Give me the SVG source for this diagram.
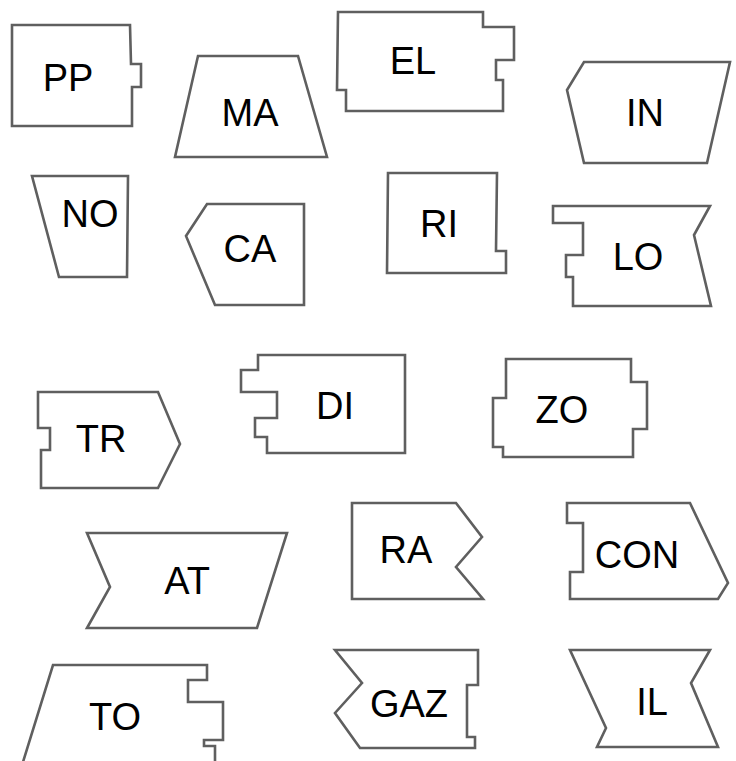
<svg xmlns="http://www.w3.org/2000/svg" width="736" height="761" viewBox="0 0 736 761">
<style>
.s{fill:#fff;stroke:#5f5f5f;stroke-width:2.6;stroke-linejoin:miter}
.t{font-family:"Liberation Sans",Arial,sans-serif;font-size:38px;fill:#000;text-anchor:middle}
</style>
<rect width="736" height="761" fill="#fff"/>
<g id="PP"><polygon class="s" points="12,25 130,25 131,64 141,64 141,87 132,87 132,126 12,126"/><text class="t" x="68" y="91">PP</text></g>
<g id="MA"><polygon class="s" points="198,56 298,56 327,157 175,157"/><text class="t" x="250" y="126">MA</text></g>
<g id="EL"><polygon class="s" points="338,12 483,12 483,27 514,27 514,60 496,60 496,80 503,80 503,111 346,111 346,90 337,90"/><text class="t" x="413" y="74">EL</text></g>
<g id="IN"><polygon class="s" points="584,62 730,62 707,163 584,163 567,90"/><text class="t" x="645" y="126">IN</text></g>
<g id="NO"><polygon class="s" points="32,176 128,176 127,277 59,277"/><text class="t" x="90" y="227">NO</text></g>
<g id="CA"><polygon class="s" points="207,204 304,204 304,305 215,305 186,236"/><text class="t" x="250" y="262">CA</text></g>
<g id="RI"><polygon class="s" points="388,173 497,173 496,251 506,251 506,273 387,273"/><text class="t" x="439" y="237">RI</text></g>
<g id="LO"><polygon class="s" points="553,206 710,206 694,235 711,306 573,306 573,277 566,277 566,255 583,255 583,223 553,223"/><text class="t" x="638" y="270">LO</text></g>
<g id="TR"><polygon class="s" points="38,392 158,392 180,444 158,488 41,488 41,450 50,450 50,428 38,428"/><text class="t" x="101" y="452">TR</text></g>
<g id="DI"><polygon class="s" points="258,355 405,355 405,453 267,453 267,437 255,437 255,418 277,418 277,392 241,392 241,370 258,370"/><text class="t" x="335" y="419">DI</text></g>
<g id="ZO"><polygon class="s" points="506,359 631,359 631,382 647,382 647,429 633,429 633,457 503,457 503,447 493,447 493,398 503,398 506,398"/><text class="t" x="562" y="423">ZO</text></g>
<g id="AT"><polygon class="s" points="87,533 287,533 257,628 87,628 110,587"/><text class="t" x="187" y="594">AT</text></g>
<g id="RA"><polygon class="s" points="352,503 456,503 482,537 456,567 483,599 352,599"/><text class="t" x="406" y="563">RA</text></g>
<g id="CON"><polygon class="s" points="567,503 690,503 728,583 718,599 570,599 570,572 583,572 583,523 567,523"/><text class="t" x="637" y="568">CON</text></g>
<g id="TO"><polyline class="s" points="23,762 53,665 207,665 207,680 188,680 188,702 223,702 223,740 204,740 204,746 215,746 215,762"/><text class="t" x="115" y="730">TO</text></g>
<g id="GAZ"><polygon class="s" points="335,650 478,650 478,685 467,685 467,737 475,737 475,748 360,748 335,713 362,683"/><text class="t" x="409" y="717">GAZ</text></g>
<g id="IL"><polygon class="s" points="570,650 710,650 691,683 718,747 597,747 606,728"/><text class="t" x="652" y="715">IL</text></g>
<g id="connectors"></g>
</svg>
